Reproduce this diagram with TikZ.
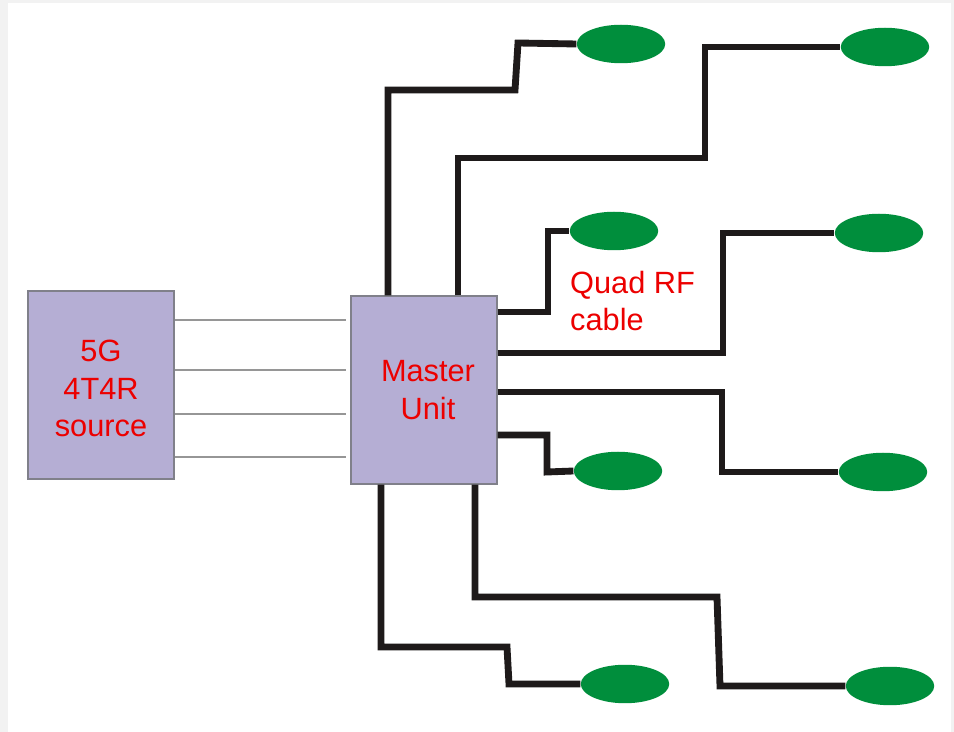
\documentclass[tikz,border=0pt]{standalone}
\usepackage{fontspec}
\setmainfont{Liberation Sans}
\usetikzlibrary{shapes.geometric}
\definecolor{mggray}{RGB}{242,242,242}
\definecolor{mulavender}{RGB}{181,174,212}
\definecolor{muedge}{RGB}{128,128,138}
\definecolor{antgreen}{RGB}{0,142,60}
\definecolor{lblred}{RGB}{236,0,0}
\definecolor{feedgray}{RGB}{150,150,150}
\definecolor{cableblack}{RGB}{30,26,26}

\begin{document}
\begin{tikzpicture}[x=0.02cm,y=-0.02cm,
    every node/.style={font=\fontsize{17.5}{21.3}\selectfont},
    unitbox/.style={draw=muedge,fill=mulavender,line width=0.6pt,
          minimum width=2.92cm,minimum height=3.76cm,inner sep=0pt,
          text=lblred,align=center},
    antenna/.style={ellipse,fill=antgreen,inner sep=0pt,
          minimum width=1.77cm,minimum height=0.77cm},
    feed/.style={feedgray,line width=0.7pt},
    cable/.style={cableblack,line width=3.9pt}]
    % frame
    \fill[mggray] (0,0) rectangle (954,732);
    \fill[white] (8,3) rectangle (951,732);
    \useasboundingbox (0,0) rectangle (954,732);
    % units
    \node[unitbox] (src) at (101,385) {\rule{0pt}{0.3cm}\\[-0.48cm]5G\\4T4R\\source};
    \node[unitbox] (mu) at (424,390) {\hspace*{0.16cm}Master\\\hspace*{0.16cm}Unit};
    \node[text=lblred,align=left,anchor=west] (quad) at (564,301) {Quad RF\\cable};
    % antennas
    \node[antenna] (a1) at (621,44) {};
    \node[antenna] (a2) at (885,47) {};
    \node[antenna] (a3) at (614,231) {};
    \node[antenna] (a4) at (879,233) {};
    \node[antenna] (a5) at (883,472) {};
    \node[antenna] (a6) at (618,471) {};
    \node[antenna] (a7) at (625,684) {};
    \node[antenna] (a8) at (890,686) {};
    % 4T4R feeds
    \foreach \y in {320,370,414,457}
      \draw[feed,shorten >=0.08cm] (src.east |- 0,\y) -- (mu.west |- 0,\y);
    % quad RF cables
    \draw[cable] (mu.north -| 388,0) |- (515,90) -- (518,43) -- (a1.west);
    \draw[cable] (mu.north -| 458,0) |- (705,158) |- (a2.west);
    \draw[cable] (mu.east |- 0,312) -| (548,231) -- (a3.west);
    \draw[cable] (mu.east |- 0,353) -| (723,233) -- (a4.west);
    \draw[cable] (mu.east |- 0,392) -| (722,472) -- (a5.west);
    \draw[cable] (mu.east |- 0,435) -| (547,472) -- (a6.west);
    \draw[cable] (mu.south -| 381,0) |- (507,647) -- (509,684) -- (a7.west);
    \draw[cable] (mu.south -| 475,0) |- (717,597) -- (720,686) -- (a8.west);
\end{tikzpicture}
\end{document}
